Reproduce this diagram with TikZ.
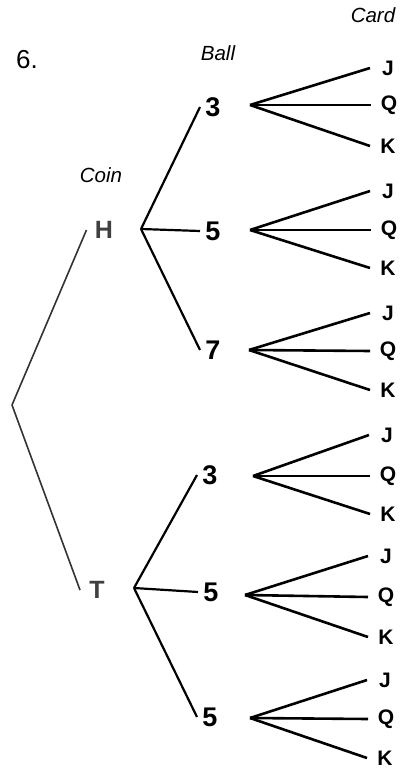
\documentclass[tikz,border=0pt]{standalone}
\usepackage{fontspec}
\setmainfont{Liberation Sans}
\usetikzlibrary{positioning}

\begin{document}
\begin{tikzpicture}[x=1pt, y=-1pt,
        % Headings over each stage of the tree
        stage/.style={font=\fontsize{20.5}{20.5}\selectfont\itshape},
        % Outcome labels, one style per stage
        coin/.style={font=\fontsize{25}{25}\selectfont\bfseries, text=black!75,
        inner sep=0pt, minimum width=17pt, outer sep=8.5pt},
        ball/.style={font=\fontsize{27}{27}\selectfont\bfseries,
        inner sep=0pt, minimum width=16pt, outer sep=5pt},
        card/.style={font=\fontsize{21}{21}\selectfont\bfseries,
        inner sep=0pt, minimum width=17pt, outer sep=9.5pt},
        % Branch lines
        trunk/.style={line width=1.6pt, black!80},
        twig/.style={line width=2.2pt},
        leaf/.style={line width=2.6pt}
    ]
    \useasboundingbox (0,0) rectangle (414,775);

    % --- Headings ---
    \node[font=\fontsize{26}{26}\selectfont] (num) at (27,60) {6.};
    \node[stage] (coin_head) at (101,175) {Coin};
    \node[stage] (ball_head) at (218,53) {Ball};
    \node[stage] (card_head) at (373,15) {Card};

    % --- Coin ---
    \coordinate (root) at (12,405);
    \node[coin] (h) at (104,230) {H};
    \node[coin] (t) at (97,590) {T};
    \draw[trunk] (root) -- (h.west);
    \draw[trunk] (root) -- (t.west);

    % --- Ball ---
    \coordinate (h_v) at (141,229);
    \coordinate (t_v) at (134,588);
    \node[ball] (b1) at (213,107) {3};
    \node[ball] (b2) at (213,231) {5};
    \node[ball] (b3) at (213,350) {7};
    \node[ball] (b4) at (210,475) {3};
    \node[ball] (b5) at (211,592) {5};
    \node[ball] (b6) at (210,717) {5};
    \draw[twig] (h_v) -- (b1.west);
    \draw[twig] (h_v) -- (b2.west);
    \draw[twig] (h_v) -- (b3.west);
    \draw[twig] (t_v) -- (b4.west);
    \draw[twig] (t_v) -- (b5.west);
    \draw[twig] (t_v) -- (b6.west);

    % --- Card, after ball 3 (heads) ---
    \coordinate (b1_v) at (250,105);
    \node[card] (b1_j) at (388,68) {J};
    \node[card] (b1_q) at (389,105) {Q};
    \node[card] (b1_k) at (388,146) {K};
    \draw[leaf] (b1_v) -- (b1_j.west);
    \draw[leaf] (b1_v) -- (b1_q.west);
    \draw[leaf] (b1_v) -- (b1_k.west);

    % --- Card, after ball 5 (heads) ---
    \coordinate (b2_v) at (250,230);
    \node[card] (b2_j) at (388,191) {J};
    \node[card] (b2_q) at (389,230) {Q};
    \node[card] (b2_k) at (388,268) {K};
    \draw[leaf] (b2_v) -- (b2_j.west);
    \draw[leaf] (b2_v) -- (b2_q.west);
    \draw[leaf] (b2_v) -- (b2_k.west);

    % --- Card, after ball 7 (heads) ---
    \coordinate (b3_v) at (249,350);
    \node[card] (b3_j) at (388,313) {J};
    \node[card] (b3_q) at (388,351) {Q};
    \node[card] (b3_k) at (388,390) {K};
    \draw[leaf] (b3_v) -- (b3_j.west);
    \draw[leaf] (b3_v) -- (b3_q.west);
    \draw[leaf] (b3_v) -- (b3_k.west);

    % --- Card, after ball 3 (tails) ---
    \coordinate (b4_v) at (253,476);
    \node[card] (b4_j) at (387,435) {J};
    \node[card] (b4_q) at (388,476) {Q};
    \node[card] (b4_k) at (388,514) {K};
    \draw[leaf] (b4_v) -- (b4_j.west);
    \draw[leaf] (b4_v) -- (b4_q.west);
    \draw[leaf] (b4_v) -- (b4_k.west);

    % --- Card, after ball 5 (tails) ---
    \coordinate (b5_v) at (245,595);
    \node[card] (b5_j) at (386,556) {J};
    \node[card] (b5_q) at (386,597) {Q};
    \node[card] (b5_k) at (386,637) {K};
    \draw[leaf] (b5_v) -- (b5_j.west);
    \draw[leaf] (b5_v) -- (b5_q.west);
    \draw[leaf] (b5_v) -- (b5_k.west);

    % --- Card, after last ball 5 (tails) ---
    \coordinate (b6_v) at (250,718);
    \node[card] (b6_j) at (385,680) {J};
    \node[card] (b6_q) at (386,719) {Q};
    \node[card] (b6_k) at (385,758) {K};
    \draw[leaf] (b6_v) -- (b6_j.west);
    \draw[leaf] (b6_v) -- (b6_q.west);
    \draw[leaf] (b6_v) -- (b6_k.west);

\end{tikzpicture}
\end{document}
